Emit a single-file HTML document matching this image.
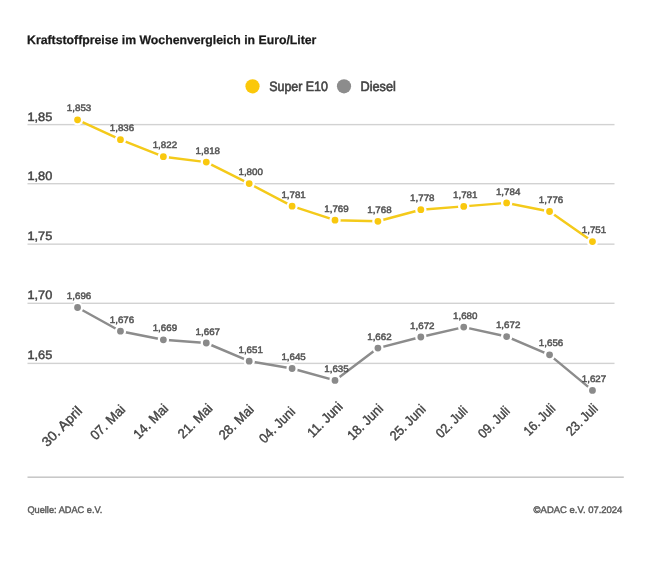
<!DOCTYPE html>
<html lang="de"><head><meta charset="utf-8"><title>Kraftstoffpreise im Wochenvergleich</title>
<style>
html,body{margin:0;padding:0;background:#fff;}
body{width:650px;height:570px;overflow:hidden;}
svg{display:block;font-family:"Liberation Sans",sans-serif;text-rendering:geometricPrecision;will-change:transform;}
.title{font-size:12.3px;font-weight:bold;fill:#1a1a1a;stroke:#1a1a1a;stroke-width:0.25px;}
.leg{font-size:13.6px;fill:#444;stroke:#444;stroke-width:0.62px;}
.yl{font-size:12.2px;fill:#444;stroke:#444;stroke-width:0.45px;}
.vl{font-size:9.4px;fill:#555;stroke:#555;stroke-width:0.5px;text-anchor:middle;}
.xl{font-size:13.5px;fill:#444;stroke:#444;stroke-width:0.4px;text-anchor:end;}
.ft{font-size:9.5px;fill:#5c5c5c;stroke:#5c5c5c;stroke-width:0.45px;}
</style></head><body>
<svg width="650" height="570" viewBox="0 0 650 570">
<text class="title" x="27.1" y="43.95" textLength="289.3" lengthAdjust="spacingAndGlyphs">Kraftstoffpreise im Wochenvergleich in Euro/Liter</text>
<circle cx="252.5" cy="86.3" r="7.1" fill="#fbc80a"/>
<text class="leg" x="269.2" y="90.7" textLength="58.7" lengthAdjust="spacingAndGlyphs">Super E10</text>
<circle cx="344" cy="86.3" r="7.1" fill="#8c8c8c"/>
<text class="leg" x="360.5" y="90.7" textLength="35.3" lengthAdjust="spacingAndGlyphs">Diesel</text>

<rect x="27.5" y="123.90" width="587" height="1.4" fill="#d2d2d2"/>
<text class="yl" x="27.4" y="120.7" textLength="24.9" lengthAdjust="spacingAndGlyphs">1,85</text>
<rect x="27.5" y="183.00" width="587" height="1.4" fill="#d2d2d2"/>
<text class="yl" x="27.4" y="179.65" textLength="24.9" lengthAdjust="spacingAndGlyphs">1,80</text>
<rect x="27.5" y="243.45" width="587" height="1.4" fill="#d2d2d2"/>
<text class="yl" x="27.4" y="239.9" textLength="24.9" lengthAdjust="spacingAndGlyphs">1,75</text>
<rect x="27.5" y="302.60" width="587" height="1.4" fill="#d2d2d2"/>
<text class="yl" x="27.4" y="299.15" textLength="24.9" lengthAdjust="spacingAndGlyphs">1,70</text>
<rect x="27.5" y="362.70" width="587" height="1.4" fill="#d2d2d2"/>
<text class="yl" x="27.4" y="359.35" textLength="24.9" lengthAdjust="spacingAndGlyphs">1,65</text>
<polyline points="77.55,119.80 120.46,139.70 163.37,156.70 206.28,162.10 249.19,183.60 292.10,206.20 335.01,220.20 377.92,221.30 420.83,209.70 463.74,206.40 506.65,202.90 549.56,211.50 592.47,241.60" fill="none" stroke="#f4ca1a" stroke-width="2.45" stroke-linejoin="round" stroke-linecap="round"/>
<circle cx="77.55" cy="119.80" r="4.55" fill="#f9c80e" stroke="#fff" stroke-width="2.3"/>
<circle cx="120.46" cy="139.70" r="4.55" fill="#f9c80e" stroke="#fff" stroke-width="2.3"/>
<circle cx="163.37" cy="156.70" r="4.55" fill="#f9c80e" stroke="#fff" stroke-width="2.3"/>
<circle cx="206.28" cy="162.10" r="4.55" fill="#f9c80e" stroke="#fff" stroke-width="2.3"/>
<circle cx="249.19" cy="183.60" r="4.55" fill="#f9c80e" stroke="#fff" stroke-width="2.3"/>
<circle cx="292.10" cy="206.20" r="4.55" fill="#f9c80e" stroke="#fff" stroke-width="2.3"/>
<circle cx="335.01" cy="220.20" r="4.55" fill="#f9c80e" stroke="#fff" stroke-width="2.3"/>
<circle cx="377.92" cy="221.30" r="4.55" fill="#f9c80e" stroke="#fff" stroke-width="2.3"/>
<circle cx="420.83" cy="209.70" r="4.55" fill="#f9c80e" stroke="#fff" stroke-width="2.3"/>
<circle cx="463.74" cy="206.40" r="4.55" fill="#f9c80e" stroke="#fff" stroke-width="2.3"/>
<circle cx="506.65" cy="202.90" r="4.55" fill="#f9c80e" stroke="#fff" stroke-width="2.3"/>
<circle cx="549.56" cy="211.50" r="4.55" fill="#f9c80e" stroke="#fff" stroke-width="2.3"/>
<circle cx="592.47" cy="241.60" r="4.55" fill="#f9c80e" stroke="#fff" stroke-width="2.3"/>
<text class="vl" x="79.05" y="111.40" textLength="24.4" lengthAdjust="spacingAndGlyphs">1,853</text>
<text class="vl" x="121.96" y="131.30" textLength="24.4" lengthAdjust="spacingAndGlyphs">1,836</text>
<text class="vl" x="164.87" y="148.30" textLength="24.4" lengthAdjust="spacingAndGlyphs">1,822</text>
<text class="vl" x="207.78" y="153.70" textLength="24.4" lengthAdjust="spacingAndGlyphs">1,818</text>
<text class="vl" x="250.69" y="175.20" textLength="24.4" lengthAdjust="spacingAndGlyphs">1,800</text>
<text class="vl" x="293.60" y="197.80" textLength="24.4" lengthAdjust="spacingAndGlyphs">1,781</text>
<text class="vl" x="336.51" y="211.80" textLength="24.4" lengthAdjust="spacingAndGlyphs">1,769</text>
<text class="vl" x="379.42" y="212.90" textLength="24.4" lengthAdjust="spacingAndGlyphs">1,768</text>
<text class="vl" x="422.33" y="201.30" textLength="24.4" lengthAdjust="spacingAndGlyphs">1,778</text>
<text class="vl" x="465.24" y="198.00" textLength="24.4" lengthAdjust="spacingAndGlyphs">1,781</text>
<text class="vl" x="508.15" y="194.50" textLength="24.4" lengthAdjust="spacingAndGlyphs">1,784</text>
<text class="vl" x="551.06" y="203.10" textLength="24.4" lengthAdjust="spacingAndGlyphs">1,776</text>
<text class="vl" x="593.97" y="233.20" textLength="24.4" lengthAdjust="spacingAndGlyphs">1,751</text>
<polyline points="77.55,307.50 120.46,331.20 163.37,339.80 206.28,343.00 249.19,361.15 292.10,368.50 335.01,380.40 377.92,348.10 420.83,337.00 463.74,327.10 506.65,336.55 549.56,354.85 592.47,390.40" fill="none" stroke="#8c8c8c" stroke-width="2.45" stroke-linejoin="round" stroke-linecap="round"/>
<circle cx="77.55" cy="307.50" r="4.55" fill="#8a8a8a" stroke="#fff" stroke-width="2.3"/>
<circle cx="120.46" cy="331.20" r="4.55" fill="#8a8a8a" stroke="#fff" stroke-width="2.3"/>
<circle cx="163.37" cy="339.80" r="4.55" fill="#8a8a8a" stroke="#fff" stroke-width="2.3"/>
<circle cx="206.28" cy="343.00" r="4.55" fill="#8a8a8a" stroke="#fff" stroke-width="2.3"/>
<circle cx="249.19" cy="361.15" r="4.55" fill="#8a8a8a" stroke="#fff" stroke-width="2.3"/>
<circle cx="292.10" cy="368.50" r="4.55" fill="#8a8a8a" stroke="#fff" stroke-width="2.3"/>
<circle cx="335.01" cy="380.40" r="4.55" fill="#8a8a8a" stroke="#fff" stroke-width="2.3"/>
<circle cx="377.92" cy="348.10" r="4.55" fill="#8a8a8a" stroke="#fff" stroke-width="2.3"/>
<circle cx="420.83" cy="337.00" r="4.55" fill="#8a8a8a" stroke="#fff" stroke-width="2.3"/>
<circle cx="463.74" cy="327.10" r="4.55" fill="#8a8a8a" stroke="#fff" stroke-width="2.3"/>
<circle cx="506.65" cy="336.55" r="4.55" fill="#8a8a8a" stroke="#fff" stroke-width="2.3"/>
<circle cx="549.56" cy="354.85" r="4.55" fill="#8a8a8a" stroke="#fff" stroke-width="2.3"/>
<circle cx="592.47" cy="390.40" r="4.55" fill="#8a8a8a" stroke="#fff" stroke-width="2.3"/>
<text class="vl" x="79.05" y="299.10" textLength="24.4" lengthAdjust="spacingAndGlyphs">1,696</text>
<text class="vl" x="121.96" y="322.80" textLength="24.4" lengthAdjust="spacingAndGlyphs">1,676</text>
<text class="vl" x="164.87" y="331.40" textLength="24.4" lengthAdjust="spacingAndGlyphs">1,669</text>
<text class="vl" x="207.78" y="334.60" textLength="24.4" lengthAdjust="spacingAndGlyphs">1,667</text>
<text class="vl" x="250.69" y="352.75" textLength="24.4" lengthAdjust="spacingAndGlyphs">1,651</text>
<text class="vl" x="293.60" y="360.10" textLength="24.4" lengthAdjust="spacingAndGlyphs">1,645</text>
<text class="vl" x="336.51" y="372.00" textLength="24.4" lengthAdjust="spacingAndGlyphs">1,635</text>
<text class="vl" x="379.42" y="339.70" textLength="24.4" lengthAdjust="spacingAndGlyphs">1,662</text>
<text class="vl" x="422.33" y="328.60" textLength="24.4" lengthAdjust="spacingAndGlyphs">1,672</text>
<text class="vl" x="465.24" y="318.70" textLength="24.4" lengthAdjust="spacingAndGlyphs">1,680</text>
<text class="vl" x="508.15" y="328.15" textLength="24.4" lengthAdjust="spacingAndGlyphs">1,672</text>
<text class="vl" x="551.06" y="346.45" textLength="24.4" lengthAdjust="spacingAndGlyphs">1,656</text>
<text class="vl" x="593.97" y="382.00" textLength="24.4" lengthAdjust="spacingAndGlyphs">1,627</text>
<text class="xl" transform="translate(83.0,411.9) rotate(-45)" textLength="50.5" lengthAdjust="spacingAndGlyphs">30. April</text>
<text class="xl" transform="translate(126.1,410.4) rotate(-45)" textLength="43" lengthAdjust="spacingAndGlyphs">07. Mai</text>
<text class="xl" transform="translate(169.1,409.4) rotate(-45)" textLength="43" lengthAdjust="spacingAndGlyphs">14. Mai</text>
<text class="xl" transform="translate(213.4,409.2) rotate(-45)" textLength="42.5" lengthAdjust="spacingAndGlyphs">21. Mai</text>
<text class="xl" transform="translate(254.6,410.2) rotate(-45)" textLength="43" lengthAdjust="spacingAndGlyphs">28. Mai</text>
<text class="xl" transform="translate(295.9,412.6) rotate(-45)" textLength="44.5" lengthAdjust="spacingAndGlyphs">04. Juni</text>
<text class="xl" transform="translate(343.4,407.4) rotate(-45)" textLength="43.5" lengthAdjust="spacingAndGlyphs">11. Juni</text>
<text class="xl" transform="translate(384.1,409.4) rotate(-45)" textLength="44.5" lengthAdjust="spacingAndGlyphs">18. Juni</text>
<text class="xl" transform="translate(426.6,409.9) rotate(-45)" textLength="44.5" lengthAdjust="spacingAndGlyphs">25. Juni</text>
<text class="xl" transform="translate(468.4,411.6) rotate(-45)" textLength="38.5" lengthAdjust="spacingAndGlyphs">02. Juli</text>
<text class="xl" transform="translate(510.6,411.9) rotate(-45)" textLength="38.5" lengthAdjust="spacingAndGlyphs">09. Juli</text>
<text class="xl" transform="translate(556.1,409.4) rotate(-45)" textLength="38.5" lengthAdjust="spacingAndGlyphs">16. Juli</text>
<text class="xl" transform="translate(598.6,409.4) rotate(-45)" textLength="38.5" lengthAdjust="spacingAndGlyphs">23. Juli</text>
<rect x="27.5" y="476.45" width="596.3" height="1.5" fill="#c6c6c6"/>
<text class="ft" x="27.4" y="513.4" textLength="75" lengthAdjust="spacingAndGlyphs">Quelle: ADAC e.V.</text>
<text class="ft" x="533.6" y="513.4" textLength="88.8" lengthAdjust="spacingAndGlyphs">©ADAC e.V. 07.2024</text>
</svg></body></html>
